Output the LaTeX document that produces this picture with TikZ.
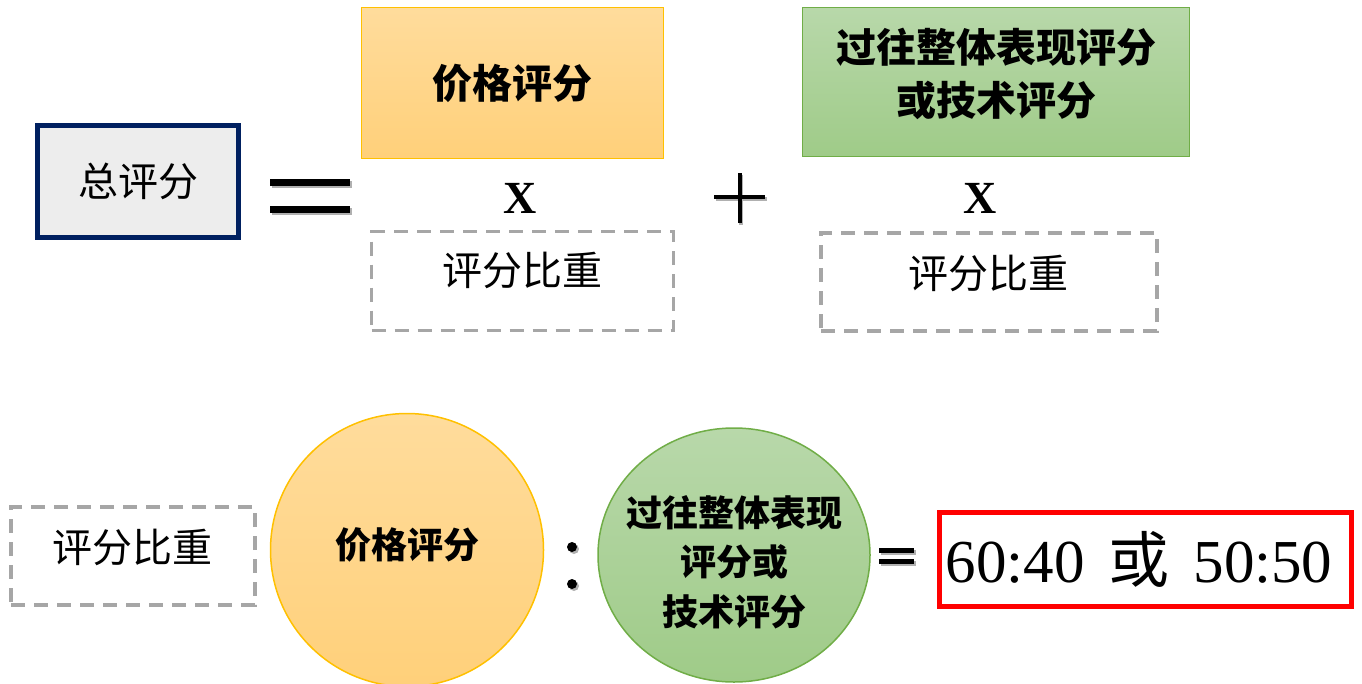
\documentclass[tikz,border=0pt]{standalone}
\usepackage{fontspec}
\setmainfont{Liberation Serif}
\newfontfamily\cjk{Noto Sans CJK SC}
\usetikzlibrary{shapes.geometric}
\definecolor{navy}{HTML}{002060}
\definecolor{boxgray}{HTML}{EDEDED}
\definecolor{orgtop}{HTML}{FFDC9C}
\definecolor{orgbot}{HTML}{FFD07A}
\definecolor{orgline}{HTML}{FFC000}
\definecolor{grntop}{HTML}{B8D8AA}
\definecolor{grnbot}{HTML}{9FCB88}
\definecolor{grnline}{HTML}{70AD47}
\definecolor{dashgray}{HTML}{A6A6A6}
\definecolor{shadowgray}{HTML}{B0B0B0}
\begin{document}
\begin{tikzpicture}[x=1pt,y=-1pt,
  cjkfont/.style={font=\cjk\fontsize{#1}{#1}\selectfont},
  orangefill/.style={top color=orgtop, bottom color=orgbot, draw=orgline, line width=1.5pt},
  greenfill/.style={top color=grntop, bottom color=grnbot, draw=grnline, line width=1.5pt},
  weightbox/.style={draw=dashgray, line width=3.5pt, dash pattern=on 14pt off 9pt, inner sep=0pt, cjkfont=40},
  symbar/.style={line width=#1, line cap=butt},
  timesx/.style={font=\bfseries\fontsize{46}{46}\selectfont, inner sep=0pt}
]
\useasboundingbox (0,0) rectangle (1362,683);

% ---------- top row ----------
\node[draw=navy, line width=5pt, fill=boxgray, minimum width=201pt, minimum height=112pt,
      inner sep=0pt, cjkfont=40] (total) at (138,181.5) {总评分};

% big equals sign with shadow
\coordinate (eqA1) at (270,182); \coordinate (eqA2) at (350,182);
\coordinate (eqB1) at (270,209); \coordinate (eqB2) at (350,209);
\draw[symbar=7pt, shadowgray] ([shift={(2,2)}]eqA1) -- ([shift={(2,2)}]eqA2);
\draw[symbar=7pt, shadowgray] ([shift={(2,2)}]eqB1) -- ([shift={(2,2)}]eqB2);
\draw[symbar=7pt] (eqA1) -- (eqA2);
\draw[symbar=7pt] (eqB1) -- (eqB2);

\node[orangefill, minimum width=302pt, minimum height=151pt, inner sep=0pt,
      font=\bfseries\cjk\fontsize{40}{40}\selectfont] (price) at (512.5,83) {价格评分};
\node[timesx] (x1) at (520,198) {X};
\node[weightbox, minimum width=302pt, minimum height=99pt] (w1) at (522.5,281) {};
\node[cjkfont=40, inner sep=0pt] (w1t) at (522,270) {评分比重};

% plus sign
\coordinate (plL) at (714,197); \coordinate (plR) at (765,197);
\coordinate (plT) at (739.5,173); \coordinate (plB) at (739.5,223);
\draw[symbar=4pt, shadowgray] ([shift={(1.5,1.5)}]plL) -- ([shift={(1.5,1.5)}]plR);
\draw[symbar=4pt, shadowgray] ([shift={(1.5,1.5)}]plT) -- ([shift={(1.5,1.5)}]plB);
\draw[symbar=4pt] (plL) -- (plR);
\draw[symbar=4pt] (plT) -- (plB);

\node[greenfill, minimum width=387pt, minimum height=149pt, inner sep=0pt] (past) at (996,82) {};
\node[font=\bfseries\cjk\fontsize{40}{53}\selectfont, align=center, inner sep=0pt] (pastt) at (996,74)
      {过往整体表现评分\\或技术评分};
\node[timesx] (x2) at (980,198) {X};
\node[weightbox, minimum width=336pt, minimum height=98pt] (w2) at (989,282) {};
\node[cjkfont=40, inner sep=0pt] (w2t) at (988,273) {评分比重};

% ---------- bottom row ----------
\node[weightbox, minimum width=244pt, minimum height=98pt] (w3) at (133,556) {};
\node[cjkfont=40, inner sep=0pt] (w3t) at (132,547) {评分比重};

\node[circle, orangefill, minimum size=273pt, inner sep=0pt] (pricec) at (407,550) {};
\node[font=\bfseries\cjk\fontsize{36}{36}\selectfont, inner sep=0pt] (pricect) at (407,545) {价格评分};

% colon
\fill[shadowgray] (574,549) circle (5pt);
\fill[shadowgray] (574,586) circle (5pt);
\fill (572,547) coordinate (c1) circle (5pt);
\fill (572,584) coordinate (c2) circle (5pt);

\node[ellipse, greenfill, minimum width=272pt, minimum height=254pt, inner sep=0pt] (pastc) at (734,555) {};
\node[font=\bfseries\cjk\fontsize{36}{49.5}\selectfont, align=center, inner sep=0pt] (pastct) at (734,562)
      {过往整体表现\\评分或\\技术评分};

% small equals
\coordinate (seA1) at (879,550.5); \coordinate (seA2) at (914,550.5);
\coordinate (seB1) at (879,561.5); \coordinate (seB2) at (914,561.5);
\draw[symbar=5pt, shadowgray] ([shift={(1.5,1.5)}]seA1) -- ([shift={(1.5,1.5)}]seA2);
\draw[symbar=5pt, shadowgray] ([shift={(1.5,1.5)}]seB1) -- ([shift={(1.5,1.5)}]seB2);
\draw[symbar=5pt] (seA1) -- (seA2);
\draw[symbar=5pt] (seB1) -- (seB2);

\node[draw=red, line width=5pt, minimum width=412pt, minimum height=94pt, inner sep=0pt] (ratio) at (1145.5,559) {};
\node[font=\fontsize{61}{61}\selectfont, inner sep=0pt] (ratiot) at (1139,559) {60:40\hspace{24pt}{\cjk 或}\hspace{24pt}50:50};
\end{tikzpicture}
\end{document}
